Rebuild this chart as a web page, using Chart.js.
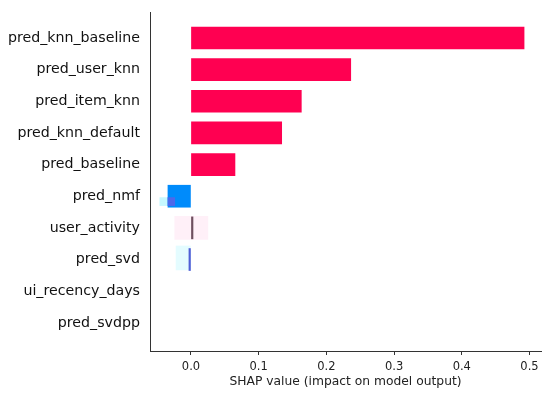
<!DOCTYPE html>
<html>
<head>
<meta charset="utf-8">
<script src="https://cdn.jsdelivr.net/npm/chart.js@4"></script>
<style>
  html, body { margin: 0; padding: 0; background: #fff; }
  #wrap { width: 550px; height: 396px; }
</style>
</head>
<body>
<div id="wrap"><canvas id="shapChart" width="550" height="396"></canvas></div>
<script>
// feature names, top to bottom
const features = [
    "pred_knn_baseline", "pred_user_knn", "pred_item_knn", "pred_knn_default",
    "pred_baseline", "pred_nmf", "user_activity", "pred_svd",
    "ui_recency_days", "pred_svdpp"
];
// mean SHAP value for each feature
const shapValues = [0.492, 0.236, 0.163, 0.134, 0.065, -0.034, 0.003, -0.003, 0, 0];
const barColors = [
    "#ff0051", "#ff0051", "#ff0051", "#ff0051", "#ff0051",
    "#008bfb", "#6e4f5f", "#4f5fd6", "#ff0051", "#ff0051"
];

// faint spread bars drawn behind the main ones
const spreadRows = [5.17, 6, 6.95];
const spreadLow = [-0.046, -0.024, -0.022];
const spreadHigh = [-0.024, 0.025, -0.001];
const spreadColors = ["#c6f8ff", "#fff0f8", "#e4fcff"];
const spreadThick = [8, 23, 24];

const xTicks = [0, 0.1, 0.2, 0.3, 0.4, 0.5];

const FONT = "'DejaVu Sans', sans-serif";

const mainPoints = [];
shapValues.forEach((v, i) => {
    if (v !== 0) mainPoints.push({ x: [0, v], y: i });
});
const mainColors = barColors.filter((c, i) => shapValues[i] !== 0);

const datasets = [
    {
        data: mainPoints,
        backgroundColor: mainColors,
        borderWidth: 0,
        barThickness: 22,
        order: 0,
    },
    {
        // overlap of the nmf spread with its bar
        data: [{ x: [-0.034, -0.024], y: 5.17 }],
        backgroundColor: "#4d68ea",
        borderWidth: 0,
        barThickness: 8,
        order: -1,
    },
];
spreadRows.forEach((row, i) => {
    datasets.push({
        data: [{ x: [spreadLow[i], spreadHigh[i]], y: row }],
        backgroundColor: spreadColors[i],
        borderWidth: 0,
        barThickness: spreadThick[i],
        order: 1,
    });
});

new Chart(document.getElementById("shapChart").getContext("2d"), {
    type: "bar",
    data: { datasets: datasets },
    options: {
        indexAxis: "y",
        responsive: false,
        animation: false,
        grouped: false,
        layout: { padding: { top: 12, right: 9, left: 0, bottom: 7 } },
        plugins: {
            legend: { display: false },
            tooltip: { enabled: false },
        },
        scales: {
            x: {
                type: "linear",
                min: -0.0605,
                max: 0.517,
                afterBuildTicks: (scale) => {
                    scale.ticks = xTicks.map((v) => ({ value: v }));
                },
                afterFit: (scale) => {
                    scale.height = 38;
                },
                grid: {
                    drawOnChartArea: false,
                    drawTicks: true,
                    tickLength: 4,
                    color: "#333333",
                },
                border: { display: true, color: "#333333", width: 1 },
                ticks: {
                    color: "#222222",
                    font: { family: FONT, size: 11.5 },
                    padding: 5,
                    maxRotation: 0,
                    callback: (v) => Number(v).toFixed(1),
                },
                title: {
                    display: true,
                    text: "SHAP value (impact on model output)",
                    color: "#222222",
                    font: { family: FONT, size: 12.3 },
                    padding: { top: 0, bottom: 0 },
                },
            },
            y: {
                type: "linear",
                reverse: true,
                offset: false,
                min: -0.82,
                max: 9.89,
                afterBuildTicks: (scale) => {
                    scale.ticks = features.map((_, i) => ({ value: i }));
                },
                afterFit: (scale) => {
                    scale.width = 150;
                    scale.paddingTop = 0;
                    scale.paddingBottom = 0;
                },
                grid: { display: false, drawTicks: false },
                border: { display: true, color: "#333333", width: 1 },
                ticks: {
                    color: "#111111",
                    font: { family: FONT, size: 14.2 },
                    padding: 10,
                    callback: (v) => features[v] ?? "",
                },
            },
        },
    },
});
</script>
</body>
</html>
